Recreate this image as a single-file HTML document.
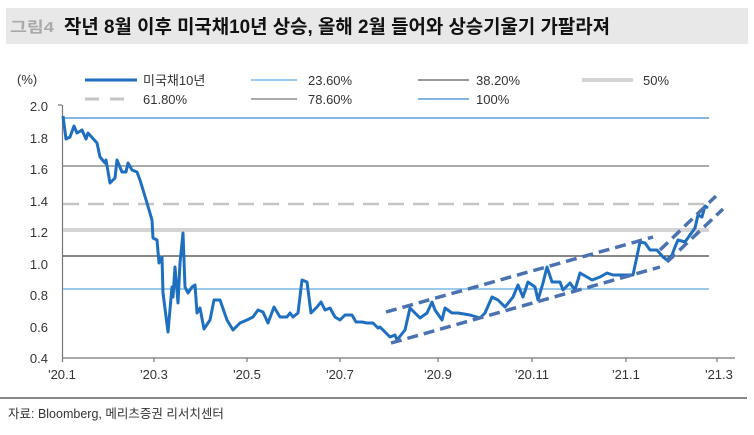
<!DOCTYPE html>
<html><head><meta charset="utf-8"><style>
body{margin:0;background:#fff;width:754px;height:430px;overflow:hidden;font-family:"Liberation Sans","Noto Sans CJK KR",sans-serif}
</style></head><body>
<svg width="754" height="430" xmlns="http://www.w3.org/2000/svg" font-family="Liberation Sans, Noto Sans CJK KR, sans-serif">
<rect x="6" y="8" width="742" height="36" fill="#e8e8e8"/>
<text x="10" y="32" font-size="15" font-weight="bold" fill="#aaa" textLength="44" lengthAdjust="spacingAndGlyphs">그림4</text>
<text x="64" y="33" font-size="19" font-weight="bold" fill="#111" textLength="546" lengthAdjust="spacingAndGlyphs">작년 8월 이후 미국채10년 상승, 올해 2월 들어와 상승기울기 가팔라져</text>
<g font-size="13" fill="#333">
<text x="17" y="84">(%)</text>
<line x1="85" y1="80" x2="137" y2="80" stroke="#1f6fc0" stroke-width="3"/><text x="143" y="85">미국채10년</text>
<line x1="251" y1="80" x2="297" y2="80" stroke="#7ab8ea" stroke-width="1.5"/><text x="308" y="85">23.60%</text>
<line x1="418" y1="80" x2="469" y2="80" stroke="#333" stroke-width="1"/><text x="476" y="85">38.20%</text>
<line x1="582" y1="80" x2="633" y2="80" stroke="#d4d4d4" stroke-width="4"/><text x="643" y="85">50%</text>
<line x1="85" y1="99" x2="130" y2="99" stroke="#c4c4c4" stroke-width="3" stroke-dasharray="14,11"/><text x="143" y="104">61.80%</text>
<line x1="251" y1="99" x2="297" y2="99" stroke="#777" stroke-width="1.2"/><text x="308" y="104">78.60%</text>
<line x1="418" y1="99" x2="469" y2="99" stroke="#5a9fd8" stroke-width="1.5"/><text x="476" y="104">100%</text>
</g>
<g font-size="13" fill="#333" text-anchor="end">
<text x="48" y="111">2.0</text><text x="48" y="143">1.8</text><text x="48" y="174">1.6</text><text x="48" y="206">1.4</text><text x="48" y="237">1.2</text><text x="48" y="269">1.0</text><text x="48" y="300">0.8</text><text x="48" y="332">0.6</text><text x="48" y="363">0.4</text>
</g>
<g stroke="#777" stroke-width="1.2">
<line x1="62.5" y1="105" x2="62.5" y2="358"/><line x1="58" y1="105" x2="62" y2="105"/>
<line x1="62" y1="358" x2="735" y2="358"/>
<line x1="62.5" y1="358" x2="62.5" y2="362"/><line x1="154" y1="358" x2="154" y2="362"/><line x1="247" y1="358" x2="247" y2="362"/><line x1="340" y1="358" x2="340" y2="362"/><line x1="438" y1="358" x2="438" y2="362"/><line x1="532" y1="358" x2="532" y2="362"/><line x1="626" y1="358" x2="626" y2="362"/><line x1="717" y1="358" x2="717" y2="362"/>
</g>
<g font-size="13" fill="#333" text-anchor="middle">
<text x="62" y="379">'20.1</text><text x="154" y="379">'20.3</text><text x="247" y="379">'20.5</text><text x="340" y="379">'20.7</text><text x="438" y="379">'20.9</text><text x="532" y="379">'20.11</text><text x="626" y="379">'21.1</text><text x="719" y="379">'21.3</text>
</g>
<line x1="0" y1="398" x2="747" y2="398" stroke="#111" stroke-width="1"/>
<line x1="63" y1="118" x2="709" y2="118" stroke="#5a9fd8" stroke-width="1.5"/>
<line x1="63" y1="166" x2="709" y2="166" stroke="#777" stroke-width="1.2"/>
<line x1="63" y1="204" x2="709" y2="204" stroke="#c4c4c4" stroke-width="2.5" stroke-dasharray="16,9"/>
<line x1="63" y1="230" x2="709" y2="230" stroke="#d4d4d4" stroke-width="4"/>
<line x1="63" y1="256" x2="709" y2="256" stroke="#111" stroke-width="1"/>
<line x1="63" y1="289" x2="709" y2="289" stroke="#7ab8ea" stroke-width="1.5"/>
<polyline fill="none" stroke="#1f6fc0" stroke-width="3" stroke-linejoin="round" points="63,116 66,139 70,137 74,126 77,133 82,130 86,139 88,133 97,143 100,157 105,163 106,160 110,183 115,178 117,160 122,172 126,172 128,163 132,170 137,172 140,180 147,203 152,220 153,238 157,240 159,263 162,257 163,293 168,332 172,287 173,297 175,267 178,303 180,263 183,233 185,287 188,293 192,287 195,285 197,313 200,308 204,329 210,320 214,300 220,300 227,320 233,330 240,323 247,320 253,317 258,310 263,312 268,323 274,307 280,317 287,317 290,313 293,317 298,313 302,280 307,282 311,313 317,307 321,302 325,310 330,308 335,317 340,320 345,315 352,315 356,322 362,322 367,323 373,323 378,328 380,327 390,337 395,335 397,340 405,330 410,308 420,318 427,313 432,302 435,310 442,320 445,308 452,313 458,313 470,315 480,318 485,313 492,297 498,300 505,307 513,297 518,285 523,297 528,282 535,287 538,300 543,283 547,267 552,282 560,282 563,290 570,283 575,290 580,273 587,277 592,280 600,277 607,273 613,275 622,275 627,275 633,275 640,242 645,243 650,250 657,250 663,257 667,260 672,255 675,247 678,240 685,242 690,235 695,228 698,215 702,217 705,206 708,208"/>
<g stroke="#4a72b0" stroke-width="3.5" stroke-dasharray="11,6" fill="none">
<line x1="386" y1="312" x2="653" y2="237"/>
<line x1="391" y1="343" x2="660" y2="267"/>
<line x1="660" y1="250" x2="716" y2="196"/>
<line x1="667" y1="262" x2="723" y2="209"/>
</g>
<text x="8" y="418" font-size="12.5" fill="#333">자료: Bloomberg, 메리츠증권 리서치센터</text>
</svg>
</body></html>
